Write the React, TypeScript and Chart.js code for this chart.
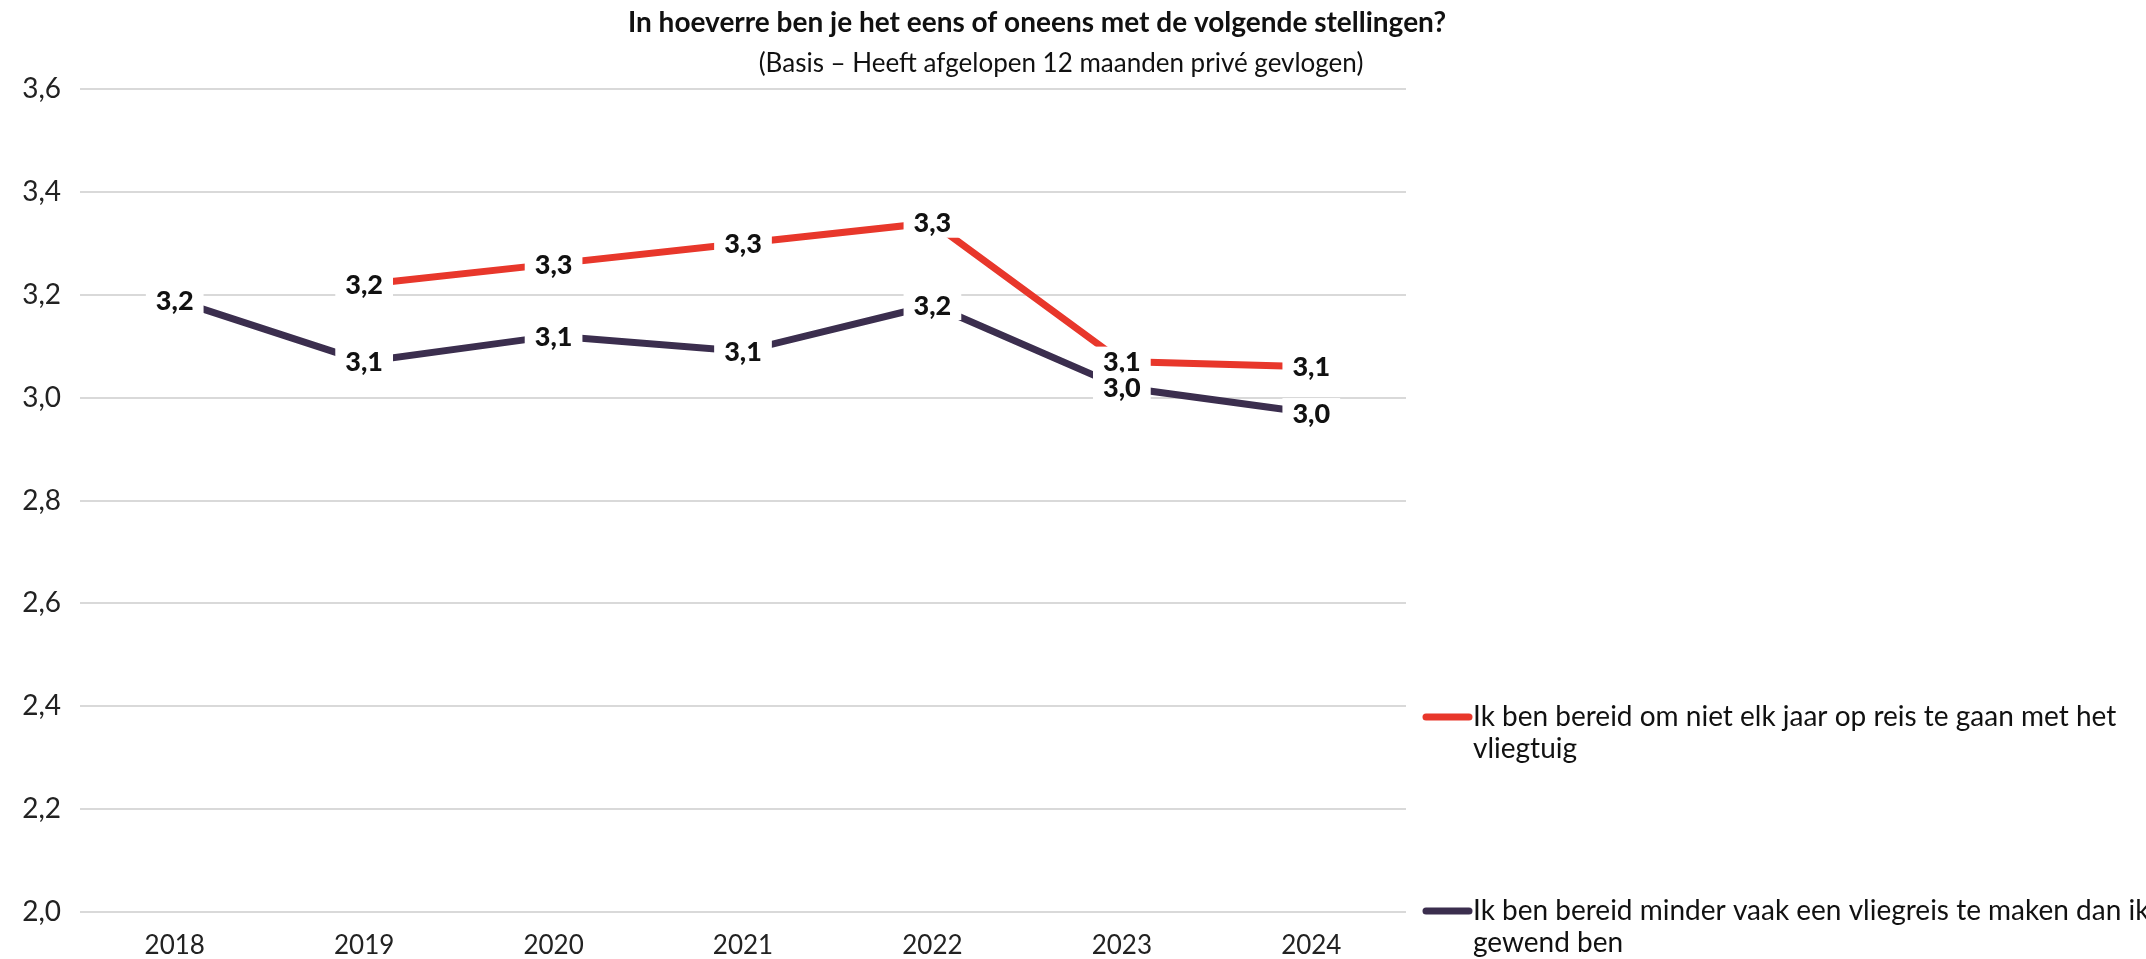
import React, { useEffect, useRef } from "react";
import { Chart, registerables } from "chart.js";

Chart.register(...registerables);

const YEARS = ["2018", "2019", "2020", "2021", "2022", "2023", "2024"];
const RED_NAME_LINES = ["Ik ben bereid om niet elk jaar op reis te gaan met het", "vliegtuig"];
const DARK_NAME_LINES = ["Ik ben bereid minder vaak een vliegreis te maken dan ik", "gewend ben"];
const RED_VALUES = [null, 3.22, 3.26, 3.3, 3.34, 3.07, 3.06];
const DARK_VALUES = [3.19, 3.07, 3.12, 3.09, 3.18, 3.02, 2.97];
const Y_MIN = 2.0;
const Y_MAX = 3.6;
const Y_STEP = 0.2;
const TITLE = "In hoeverre ben je het eens of oneens met de volgende stellingen?";
const SUBTITLE = "(Basis \u2013 Heeft afgelopen 12 maanden privé gevlogen)";

const RED = "#E8372B";
const DARK = "#3B2E4E";
const FONT = "Lato, 'Open Sans', sans-serif";

const fmt = (v: number) => v.toFixed(1).replace(".", ",");

const labelsPlugin = {
  id: "valueLabels",
  afterDatasetsDraw(chart: any) {
    const ctx = chart.ctx;
    ctx.save();
    ctx.font = `900 27px ${FONT}`;
    ctx.textAlign = "center";
    ctx.textBaseline = "middle";
    chart.data.datasets.forEach((ds: any, i: number) => {
      const meta = chart.getDatasetMeta(i);
      meta.data.forEach((pt: any, j: number) => {
        const v = ds.data[j];
        if (v === null || v === undefined) return;
        const txt = fmt(v);
        const w = ctx.measureText(txt).width;
        ctx.fillStyle = "#ffffff";
        ctx.fillRect(pt.x - w / 2 - 10, pt.y - 15, w + 20, 30);
        ctx.fillStyle = "#111111";
        ctx.fillText(txt, pt.x, pt.y + 1);
      });
    });
    ctx.restore();
  },
};

const decorPlugin = {
  id: "decor",
  afterDraw(chart: any) {
    const ctx = chart.ctx;
    ctx.save();
    ctx.fillStyle = "#111111";
    ctx.textAlign = "center";
    ctx.textBaseline = "middle";
    ctx.font = `bold 28px ${FONT}`;
    ctx.fillText(TITLE, 1037, 23);
    ctx.font = `26px ${FONT}`;
    ctx.fillText(SUBTITLE, 1061, 64);

    const items = [
      { color: RED, lines: RED_NAME_LINES, y: 717 },
      { color: DARK, lines: DARK_NAME_LINES, y: 911 },
    ];
    ctx.textAlign = "left";
    ctx.font = `28px ${FONT}`;
    items.forEach((it) => {
      ctx.strokeStyle = it.color;
      ctx.lineWidth = 7;
      ctx.lineCap = "round";
      ctx.beginPath();
      ctx.moveTo(1426, it.y);
      ctx.lineTo(1469, it.y);
      ctx.stroke();
      ctx.fillStyle = "#111111";
      it.lines.forEach((ln, k) => ctx.fillText(ln, 1473, it.y + k * 32));
    });
    ctx.restore();
  },
};

export default function App() {
  const ref = useRef<HTMLCanvasElement>(null);
  useEffect(() => {
    document.body.style.margin = "0";
    const canvas = ref.current!;
    const chart = new Chart(canvas, {
      type: "line",
      data: {
        labels: YEARS,
        datasets: [
          {
            label: RED_NAME_LINES.join(" "),
            data: RED_VALUES,
            borderColor: RED,
            backgroundColor: RED,
            borderWidth: 7,
            pointRadius: 0,
            tension: 0,
            spanGaps: false,
          },
          {
            label: DARK_NAME_LINES.join(" "),
            data: DARK_VALUES,
            borderColor: DARK,
            backgroundColor: DARK,
            borderWidth: 7,
            pointRadius: 0,
            tension: 0,
          },
        ],
      },
      options: {
        responsive: false,
        animation: false,
        devicePixelRatio: 1,
        layout: { padding: { top: 89, right: 740, bottom: 0, left: 0 } },
        plugins: {
          legend: { display: false },
          title: { display: false },
          tooltip: { enabled: false },
        },
        scales: {
          x: {
            offset: true,
            grid: { display: false, drawTicks: false },
            border: { display: false },
            ticks: {
              color: "#222222",
              font: { family: FONT, size: 26 },
              padding: 18,
              maxRotation: 0,
            },
            afterFit(scale: any) {
              scale.height = 47;
            },
          },
          y: {
            min: Y_MIN,
            max: Y_MAX,
            grid: { color: "#d9d9d9", lineWidth: 2, drawTicks: false },
            border: { display: false },
            ticks: {
              stepSize: Y_STEP,
              color: "#222222",
              font: { family: FONT, size: 28 },
              padding: 19,
              callback: (v: any) => fmt(Number(v)),
            },
            afterFit(scale: any) {
              scale.width = 80;
            },
          },
        },
      },
      plugins: [labelsPlugin, decorPlugin],
    });
    return () => chart.destroy();
  }, []);
  return <canvas ref={ref} width={2146} height={959} style={{ display: "block" }} />;
}
